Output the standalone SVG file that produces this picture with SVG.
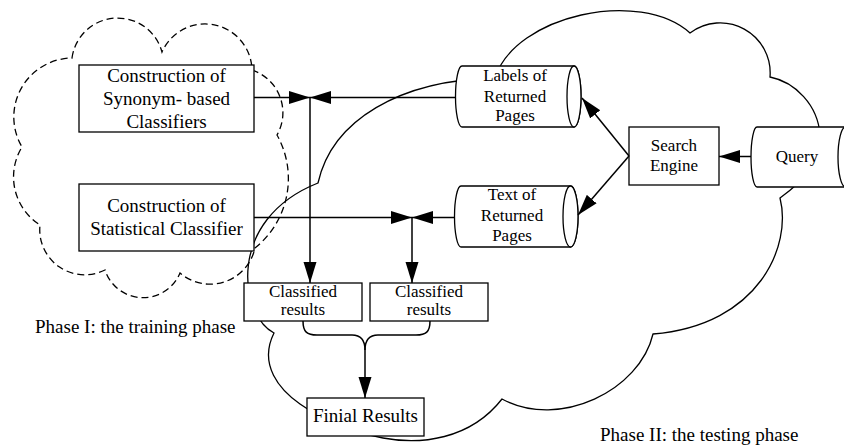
<svg xmlns="http://www.w3.org/2000/svg" width="844" height="446" viewBox="0 0 844 446">
  <defs>
    <marker id="arrow" markerUnits="userSpaceOnUse" markerWidth="22" markerHeight="14" refX="21" refY="6.5" orient="auto">
      <path d="M0,0 L21,6.5 L0,13 Z" fill="#000"/>
    </marker>
    <style>
      .cloud { fill: none; stroke: #000; stroke-width: 1.3; }
      .dashed { stroke-dasharray: 7 4; }
      .box { fill: #fff; stroke: #000; stroke-width: 1.3; }
      .edge { fill: none; stroke: #000; stroke-width: 1.5; }
      .arr { marker-end: url(#arrow); }
      text { font-family: "Liberation Serif", "Times New Roman", serif; fill: #000; text-anchor: middle; }
      .big { font-size: 19px; }
      .mid { font-size: 17px; }
      .lbl { font-size: 19px; text-anchor: start; }
    </style>
  </defs>
  <rect width="844" height="446" fill="#fff"/>

  <!-- phase outlines -->
  <g id="phase-1-cloud">
    <path class="cloud dashed" d="M72,58 A46 46 0 0 1 162,52 A47 47 0 0 1 252,70 A45 45 0 0 1 277,135 A89 89 0 0 1 255,248 A46 46 0 0 1 180,273 A40 40 0 0 1 105,270 A45 45 0 0 1 40,225 A57 57 0 0 1 22,147 A59 59 0 0 1 72,58 Z"/>
  </g>
  <g id="phase-2-cloud">
    <path class="cloud" d="M318,183 C332,120 400,80 495,78 C515,15 640,-12 690,33 A50 50 0 0 1 770,77 C795,82 818,105 820,135 C822,160 805,180 780,198 C792,245 760,325 653,334 C640,390 560,430 502,399 C470,440 420,445 383,438 C346,431 320,418 300,404 C280,390 258,365 274,333 C240,315 225,220 318,183 Z"/>
  </g>

  <!-- training side -->
  <g id="synonym-classifiers">
    <rect class="box" x="79" y="65" width="175" height="67"/>
    <text class="big" x="166.5" y="81.5">Construction of</text>
    <text class="big" x="166.5" y="104.5">Synonym- based</text>
    <text class="big" x="166.5" y="127.5">Classifiers</text>
  </g>
  <g id="statistical-classifier">
    <rect class="box" x="79" y="184" width="175" height="67"/>
    <text class="big" x="166.5" y="212">Construction of</text>
    <text class="big" x="166.5" y="235">Statistical Classifier</text>
  </g>

  <!-- testing side -->
  <g id="labels-returned">
    <path class="box" d="M462,66 L574,66 A7 30.5 0 0 1 574,127 L462,127 A6.5 30.5 0 0 1 462,66 Z"/>
    <ellipse class="box" cx="574" cy="96.5" rx="7" ry="30.5"/>
    <text class="mid" x="515" y="80.5">Labels of</text>
    <text class="mid" x="515" y="101.5">Returned</text>
    <text class="mid" x="515" y="121">Pages</text>
  </g>
  <g id="text-returned">
    <path class="box" d="M461,186 L570.5,186 A7.5 30.5 0 0 1 570.5,247 L461,247 A6.5 30.5 0 0 1 461,186 Z"/>
    <ellipse class="box" cx="570.5" cy="216.5" rx="7.5" ry="30.5"/>
    <text class="mid" x="512" y="200">Text of</text>
    <text class="mid" x="512" y="221">Returned</text>
    <text class="mid" x="512" y="240.5">Pages</text>
  </g>
  <g id="search-engine">
    <rect class="box" x="629" y="127" width="90" height="58"/>
    <text class="mid" x="674" y="151">Search</text>
    <text class="mid" x="674" y="171">Engine</text>
  </g>
  <g id="query">
    <path class="box" d="M757,127 L845.5,127 A7.5 30 0 0 1 845.5,187 L757,187 A6 30 0 0 1 757,127 Z"/>
    <ellipse class="box" cx="845.5" cy="157" rx="7.5" ry="30"/>
    <text class="mid" x="797" y="162">Query</text>
  </g>
  <g id="classified-results-1">
    <rect class="box" x="244" y="283" width="118" height="38"/>
    <text class="mid" x="303" y="297">Classified</text>
    <text class="mid" x="303" y="315">results</text>
  </g>
  <g id="classified-results-2">
    <rect class="box" x="370" y="283" width="118" height="38"/>
    <text class="mid" x="429" y="297">Classified</text>
    <text class="mid" x="429" y="315">results</text>
  </g>
  <g id="final-results">
    <rect class="box" x="307" y="398" width="117" height="38"/>
    <text class="big" x="365.5" y="422">Finial Results</text>
  </g>

  <!-- connectors -->
  <g id="connectors">
    <line class="edge arr" x1="254" y1="97.5" x2="310" y2="97.5"/>
    <line class="edge arr" x1="456" y1="97.5" x2="310" y2="97.5"/>
    <line class="edge arr" x1="310" y1="97.5" x2="310" y2="283"/>
    <line class="edge arr" x1="254" y1="217.5" x2="412" y2="217.5"/>
    <line class="edge arr" x1="455" y1="217.5" x2="412" y2="217.5"/>
    <line class="edge arr" x1="412" y1="217.5" x2="412" y2="283"/>
    <line class="edge arr" x1="629" y1="156" x2="582" y2="98"/>
    <line class="edge arr" x1="629" y1="156" x2="578" y2="215"/>
    <line class="edge arr" x1="751" y1="156.5" x2="719" y2="156.5"/>
    <path class="edge" d="M303,321 C303,332 307,335 317,335 L352,335 C360,335 365,339 365,350"/>
    <path class="edge" d="M430,321 C430,332 426,335 416,335 L378,335 C370,335 365,339 365,350"/>
    <line class="edge arr" x1="365" y1="350" x2="365" y2="398"/>
  </g>

  <!-- phase captions -->
  <text class="lbl" x="35" y="333">Phase I: the training phase</text>
  <text class="lbl" x="600" y="441">Phase II: the testing phase</text>
</svg>
